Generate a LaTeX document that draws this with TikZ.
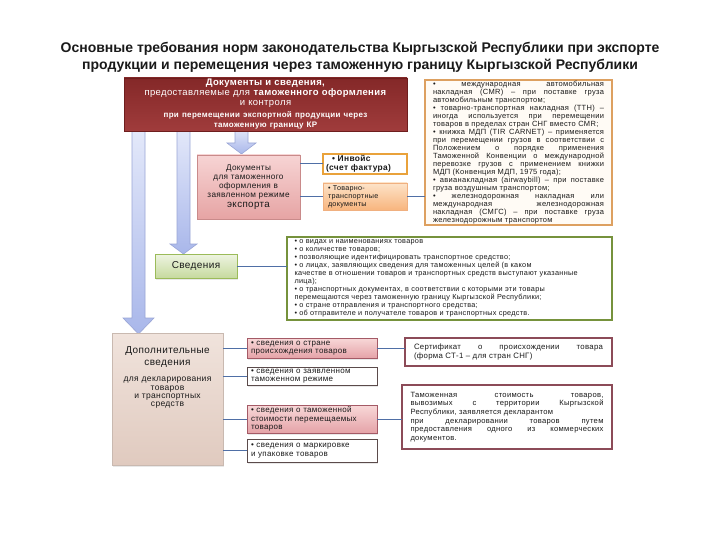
\documentclass[tikz,border=0pt]{standalone}
\usepackage{fontspec}
\setmainfont{Liberation Sans}
\newfontfamily\bt{Liberation Sans}[LetterSpace=4]
\usetikzlibrary{shadows}
\definecolor{txt}{HTML}{1A1A1A}
\definecolor{redA}{HTML}{A03C3C}
\definecolor{redB}{HTML}{842828}
\definecolor{redD}{HTML}{6E1E1E}
\definecolor{orB}{HTML}{DDA060}
\definecolor{orF}{HTML}{FFFBF5}
\definecolor{pinkA}{HTML}{F7D4D4}
\definecolor{pinkB}{HTML}{E6A4A4}
\definecolor{pinkD}{HTML}{C98A8A}
\definecolor{invB}{HTML}{E9A23B}
\definecolor{tovA}{HTML}{FDE3C8}
\definecolor{tovB}{HTML}{F8B57E}
\definecolor{tovD}{HTML}{F0B080}
\definecolor{grA}{HTML}{EEF4E2}
\definecolor{grB}{HTML}{C6DA9E}
\definecolor{grD}{HTML}{9BBB59}
\definecolor{olive}{HTML}{76923C}
\definecolor{begA}{HTML}{F0E3DC}
\definecolor{begB}{HTML}{E0CABF}
\definecolor{begD}{HTML}{C9B9B0}
\definecolor{spA}{HTML}{F8D8D8}
\definecolor{spB}{HTML}{E5A3A8}
\definecolor{spD}{HTML}{A45A66}
\definecolor{wbD}{HTML}{5B4B4B}
\definecolor{marD}{HTML}{8C4B58}
\definecolor{arA}{HTML}{E4E9FA}
\definecolor{arB}{HTML}{A9B7EA}
\definecolor{arD}{HTML}{9AA6D6}
\definecolor{lin}{HTML}{4F6FA6}
\newcommand\jline[1]{\hbox to\hsize{#1}}
\newcommand\lline[1]{\hbox to\hsize{#1\hfil}}
\newcommand\tblock[3]{\vbox{\hsize=#1\baselineskip=#2\lineskiplimit=-20pt\parindent=0pt #3}}
\begin{document}
\begin{tikzpicture}[x=1pt,y=-1pt,
  every node/.style={text=txt, inner sep=0pt, outer sep=0pt},
  box/.style={anchor=north west, rectangle, draw, line width=0.8pt},
  sh/.style={drop shadow={opacity=0.18, shadow xshift=1pt, shadow yshift=-1.5pt}},
  conn/.style={draw=lin, line width=1pt},
  arr/.style={draw=arD, line width=0.6pt, top color=arA, bottom color=arB},
  pinkbox/.style={box, sh, draw=spD, top color=spA, bottom color=spB},
  whitebox/.style={box, sh, draw=wbD, fill=white},
  redbox/.style={box, draw=marD, line width=1.4pt, fill=white},
  small/.style={font=\bt\fontsize{8}{8.4}\selectfont, text width=122pt, align=left, minimum width=130pt},
]
\useasboundingbox (0,0) rectangle (720,540);
\fill[white] (0,0) rectangle (720,540);

% title
\node[align=center, font=\bfseries\fontsize{14}{17}\selectfont] (title) at (360,57)
  {Основные требования норм законодательства Кыргызской Республики при экспорте\\
   продукции и перемещения через таможенную границу Кыргызской Республики};

% arrows
\path[arr] (132,128) -- (145,128) -- (145,318) -- (154,318) -- (138.5,334) -- (123,318) -- (132,318) -- cycle;
\path[arr] (177,128) -- (190,128) -- (190,244) -- (197,244) -- (183.5,254) -- (170,244) -- (177,244) -- cycle;
\path[arr] (235,128) -- (248,128) -- (248,143) -- (256,143) -- (241.5,154) -- (227,143) -- (235,143) -- cycle;

% top red box
\node[box, sh, draw=redD, top color=redB, bottom color=redA, minimum width=283pt, minimum height=53pt,
  text width=279pt, align=center, text=white, font=\bt\fontsize{9.5}{9.6}\selectfont] (top) at (124,78)
  {\textbf{Документы и сведения,}\\
   предоставляемые для \textbf{таможенного оформления}\\
   и контроля\\[3.2pt]
   {\bfseries\fontsize{8}{9.6}\selectfont при перемещении экспортной продукции через}\\[0.3pt]
   {\bfseries\fontsize{8}{9.6}\selectfont таможенную границу КР}};

% documents box
\node[box, sh, draw=pinkD, top color=pinkA, bottom color=pinkB, minimum width=103pt, minimum height=64pt,
  text width=101pt, align=center, font=\bt\fontsize{8.2}{9.1}\selectfont] (docs) at (197,155)
  {Документы\\ для таможенного\\ оформления в\\ заявленном режиме\\[1pt]
   {\fontsize{9.8}{10}\selectfont экспорта}};

\node[box, draw=invB, line width=1.3pt, fill=white, minimum width=84pt, minimum height=20pt,
  text width=78pt, align=left, font=\bt\bfseries\fontsize{8.4}{8.8}\selectfont] (inv) at (323,154)
  {\hspace*{6pt}• Инвойс\\ (счет фактура)};

\node[box, sh, draw=tovD, top color=tovA, bottom color=tovB, minimum width=84pt, minimum height=27pt,
  text width=74pt, align=left, font=\bt\fontsize{7.2}{8.2}\selectfont] (tov) at (323,183)
  {• Товарно-\\ транспортные\\ документы};

% right orange box
\node[box, draw=orB, line width=1.6pt, fill=orF, minimum width=187pt, minimum height=145pt] (rb) at (425,80)
  {\bt\fontsize{7.5}{7.95}\selectfont\tblock{171pt}{7.95pt}{%
  \jline{• международная автомобильная}
  \jline{накладная (CMR) – при поставке груза}
  \lline{автомобильным транспортом;}
  \jline{• товарно-транспортная накладная (ТТН) –}
  \jline{иногда используется при перемещении}
  \lline{товаров в пределах стран СНГ вместо CMR;}
  \jline{• книжка МДП (TIR CARNET) – применяется}
  \jline{при перемещении грузов в соответствии с}
  \jline{Положением о порядке применения}
  \jline{Таможенной Конвенции о международной}
  \jline{перевозке грузов с применением книжки}
  \lline{МДП (Конвенция МДП, 1975 года);}
  \jline{• авианакладная (airwaybill) – при поставке}
  \lline{груза воздушным транспортом;}
  \jline{• железнодорожная накладная или}
  \jline{международная железнодорожная}
  \jline{накладная (СМГС) – при поставке груза}
  \lline{железнодорожным транспортом}}};

% svedeniya
\node[box, sh, draw=grD, top color=grA, bottom color=grB, minimum width=82pt, minimum height=24pt,
  font=\bt\fontsize{10}{11}\selectfont] (sved) at (155,254) {Сведения};

\node[box, draw=olive, line width=1.3pt, fill=white, minimum width=325pt, minimum height=83pt] (gb) at (287,237)
  {\bt\fontsize{7.3}{8.05}\selectfont\tblock{310pt}{8.05pt}{%
   \lline{• о видах и наименованиях товаров}
   \lline{• о количестве товаров;}
   \lline{• позволяющие идентифицировать транспортное средство;}
   \lline{• о лицах, заявляющих сведения для таможенных целей (в каком}
   \lline{качестве в отношении товаров и транспортных средств выступают указанные}
   \lline{лица);}
   \lline{• о транспортных документах, в соответствии с которыми эти товары}
   \lline{перемещаются через таможенную границу Кыргызской Республики;}
   \lline{• о стране отправления и транспортного средства;}
   \lline{• об отправителе и получателе товаров и транспортных средств.}}};

% additional
\node[box, sh, draw=begD, top color=begA, bottom color=begB, minimum width=111pt, minimum height=132pt] (dop) at (112,333) {};
\node[anchor=north, text width=108pt, align=center, font=\bt\fontsize{8.5}{8.2}\selectfont] (doptext) at (167.5,347)
  {{\fontsize{10}{12}\selectfont Дополнительные}\\[3.8pt]
   {\fontsize{10}{12}\selectfont сведения}\\[7.8pt]
   для декларирования\\ товаров\\ и транспортных\\ средств};

\node[pinkbox, small, minimum height=20pt] (s1) at (247,338)
  {• сведения о стране\\ происхождения товаров};
\node[whitebox, small, minimum height=18pt] (s2) at (247,367)
  {• сведения о заявленном\\ таможенном режиме};
\node[pinkbox, small, minimum height=28pt] (s3) at (247,405)
  {• сведения о таможенной\\ стоимости перемещаемых\\ товаров};
\node[whitebox, small, minimum height=23pt] (s4) at (247,439)
  {• сведения о маркировке\\ и упаковке товаров};

\node[redbox, minimum width=207pt, minimum height=28pt] (cert) at (405,338)
  {\bt\fontsize{7.8}{9}\selectfont\tblock{189pt}{9pt}{%
   \jline{Сертификат о происхождении товара}
   \lline{(форма СТ-1 – для стран СНГ)}}};

\node[redbox, minimum width=210pt, minimum height=64pt] (tam) at (402,385)
  {\bt\fontsize{7.6}{8.6}\selectfont\tblock{193pt}{8.6pt}{%
   \jline{Таможенная стоимость товаров,}
   \jline{вывозимых с территории Кыргызской}
   \lline{Республики, заявляется декларантом}
   \jline{при декларировании товаров путем}
   \jline{предоставления одного из коммерческих}
   \lline{документов.}}};

% connectors
\draw[conn] (inv.west) -- (inv.west -| docs.east);
\draw[conn] (tov.west) -- (tov.west -| docs.east);
\draw[conn] (tov.east) -- (tov.east -| rb.west);
\draw[conn] (sved.east) -- (sved.east -| gb.west);
\draw[conn] (s1.west) -- (s1.west -| dop.east);
\draw[conn] (s2.west) -- (s2.west -| dop.east);
\draw[conn] (s3.west) -- (s3.west -| dop.east);
\draw[conn] (s4.west) -- (s4.west -| dop.east);
\draw[conn] (s1.east) -- (s1.east -| cert.west);
\draw[conn] (s3.east) -- (s3.east -| tam.west);
\end{tikzpicture}
\end{document}
